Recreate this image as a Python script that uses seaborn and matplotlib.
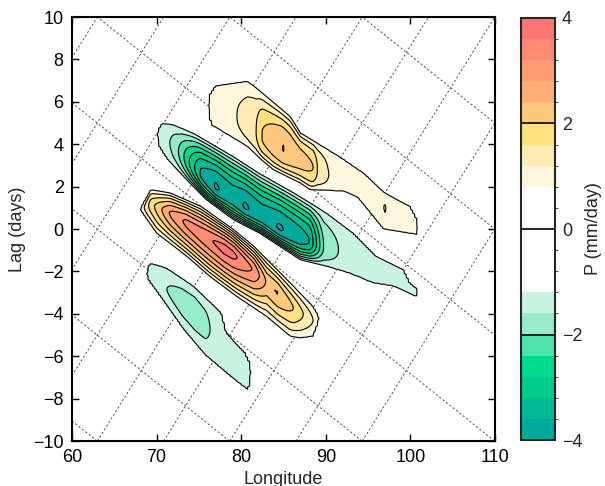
import numpy as np
import matplotlib
matplotlib.use("Agg")
import matplotlib.pyplot as plt
import seaborn as sns
from matplotlib.colors import ListedColormap, BoundaryNorm, to_rgba

# ---------------- data ----------------
levels = np.round(np.arange(-4.0, 4.01, 0.4), 2)
cbar_ticks = [-4, -2, 0, 2, 4]
cbar_lines = [-2, 0, 2]
lon_ticks = [60, 70, 80, 90, 100, 110]
lag_ticks = list(range(-10, 11, 2))

# one colour per 0.4 interval from -4 to 4 (white intervals are left unfilled)
band_colors = ["#00A99A", "#00B993", "#00CB88", "#00DA8C", "#4FE2AA",
               "#98EBC9", "#C9F3E1", "white", "white", "white",
               "white", "white", "#FFF6DE", "#FFEBB3", "#FFE07F",
               "#FFC77C", "#FFAE78", "#FF9C74", "#FF8A72", "#FF7571"]

# red (positive) band: outer 0.8 contour edges and ridge
red_top_lon = [67.9, 69.3, 71.6, 75.2, 79.1, 81.5, 86.2, 88.5, 89.4]
red_top_lag = [0.9, 1.86, 1.7, 1.07, -0.03, -0.82, -2.7, -3.65, -4.2]
red_bot_lon = [67.9, 68.3, 70.0, 73.6, 76.3, 79.5, 83.0, 85.8, 87.0, 88.5, 89.4]
red_bot_lag = [0.9, 0.75, -0.19, -1.29, -2.23, -3.18, -4.12, -5.06, -5.14, -5.06, -4.2]
red_ridge_lon = [67.9, 69.3, 71.6, 73.5, 75.2, 78.0, 79.1, 81.5, 83.0, 84.3, 86.2, 88.5, 89.4]
red_ridge_lag = [0.9, 1.15, 0.75, 0.3, -0.2, -0.9, -1.2, -1.95, -2.5, -3.0, -3.75, -4.3, -4.2]
red_ridge_val = [0.7, 1.8, 2.85, 3.3, 3.45, 3.75, 3.7, 3.15, 2.35, 2.42, 2.0, 1.2, 0.7]

# main green (negative) band: outer -1.2 contour edges and ridge
gm_top_lon = [69.8, 70.6, 72.0, 74.4, 79.1, 82.2, 86.2, 90.1, 93.3, 96.0, 99.2, 100.0, 101.6]
gm_top_lag = [4.5, 5.0, 4.92, 4.5, 3.4, 2.6, 1.7, 0.75, -0.2, -1.3, -1.9, -2.55, -3.05]
gm_bot_lon = [69.8, 70.0, 71.2, 73.6, 75.9, 79.1, 82.2, 87.0, 90.1, 92.9, 95.6, 98.0, 100.6, 101.6]
gm_bot_lag = [4.5, 4.05, 3.3, 2.3, 1.38, 0.44, -0.2, -1.45, -1.76, -2.1, -2.55, -2.7, -3.2, -3.05]
gm_ridge_lon = [69.8, 70.6, 71.6, 72.6, 75.2, 77.0, 79.0, 80.5, 82.5, 84.6, 87.0, 88.1,
                89.7, 91.5, 93.3, 96.0, 98.5, 100.0, 101.6]
gm_ridge_lag = [4.5, 4.45, 4.05, 3.65, 2.6, 1.97, 1.45, 1.04, 0.55, 0.03, -0.45, -0.6,
                -0.85, -1.0, -1.3, -1.95, -2.35, -2.85, -3.05]
gm_ridge_val = [-1.1, -1.4, -1.6, -2.0, -3.65, -4.04, -3.85, -4.04, -3.85, -4.04, -3.8, -3.6,
                -2.0, -1.6, -1.45, -1.4, -1.35, -1.3, -1.1]

# upper yellow (positive) band
yb_top_lon = [75.5, 76.9, 80.7, 81.5, 85.8, 87.0, 91.7, 94.5, 97.0, 100.0, 101.5, 101.7]
yb_top_lag = [5.9, 6.76, 6.97, 6.75, 5.3, 4.53, 3.4, 2.64, 1.7, 1.07, 0.0, -0.1]
yb_bot_lon = [75.5, 76.5, 80.7, 82.6, 83.8, 87.0, 88.1, 92.1, 93.7, 96.8, 100.8, 101.7]
yb_bot_lag = [5.9, 4.9, 3.9, 3.19, 2.8, 2.17, 1.86, 1.78, 1.5, 0.0, -0.27, -0.1]
yb_ridge_lon = [75.5, 77.5, 79.5, 81.8, 82.4, 84.9, 86.5, 88.5, 89.0, 90.3, 92.0, 94.0,
                97.0, 99.0, 101.7]
yb_ridge_lag = [5.9, 5.6, 5.3, 4.55, 4.35, 3.8, 3.4, 2.9, 2.8, 2.55, 2.35, 1.9,
                1.0, 0.55, -0.1]
yb_ridge_val = [0.7, 1.0, 1.2, 1.6, 2.0, 2.42, 2.2, 2.0, 1.6, 1.2, 1.0, 1.0,
                1.21, 1.0, 0.7]

# lower-left green (negative) band
gb_top_lon = [68.2, 69.3, 71.2, 74.4, 77.7, 78.3, 80.5, 81.9]
gb_top_lag = [-2.0, -1.6, -1.84, -2.7, -3.96, -4.9, -5.85, -6.95]
gb_bot_lon = [68.2, 70.4, 73.2, 75.7, 78.7, 80.7, 81.9]
gb_bot_lag = [-2.0, -3.18, -4.75, -5.93, -6.95, -7.58, -6.95]
gb_ridge_lon = [68.2, 70.0, 71.2, 73.0, 74.5, 75.8, 76.5, 78.0, 80.0, 81.9]
gb_ridge_lag = [-2.0, -2.4, -2.85, -3.4, -3.9, -4.45, -4.8, -5.4, -6.4, -6.95]
gb_ridge_val = [-1.1, -1.4, -1.6, -1.8, -1.85, -1.75, -1.55, -1.45, -1.35, -1.1]

# profile sharpness per band (red, main green, yellow, lower green)
band_shape = [1.6, 2.0, 2.4, 1.8]

# dashed guide lines: anchor (lon, lag), slopes (deg/day) and spacing (deg)
guide_anchor = (63.0, 10.0)
guide_slopes = [1.566, -3.13]
guide_spacing = [7.83, 15.66]

# ---------------- build field ----------------
lon = np.arange(60, 110.001, 0.25)
lag = np.arange(-10, 10.001, 0.05)
LON, LAG = np.meshgrid(lon, lag)


def band_field(tl, tg, bl, bg, rl, rg, rv, thr, p):
    top = np.interp(LON, tl, tg)
    bot = np.interp(LON, bl, bg)
    pk = np.interp(LON, rl, rg)
    A = np.interp(LON, rl, rv, left=0.0, right=0.0)
    sgn = np.sign(thr)
    a = np.abs(A)
    t = abs(thr)
    up = np.maximum(top - pk, 1e-3)
    dn = np.maximum(pk - bot, 1e-3)
    d = np.where(LAG >= pk, (LAG - pk) / up, (pk - LAG) / dn)
    inside = t + (a - t) * (1 - np.minimum(d, 1.0) ** p)
    outside = t * np.exp(-4.0 * np.maximum(d - 1.0, 0.0))
    strong = np.where(d <= 1.0, inside, outside)
    weak = a * np.exp(-d ** 2)
    return sgn * np.where(a > t, strong, weak)


fields = np.stack([
    band_field(red_top_lon, red_top_lag, red_bot_lon, red_bot_lag,
               red_ridge_lon, red_ridge_lag, red_ridge_val, 0.8, band_shape[0]),
    band_field(gm_top_lon, gm_top_lag, gm_bot_lon, gm_bot_lag,
               gm_ridge_lon, gm_ridge_lag, gm_ridge_val, -1.2, band_shape[1]),
    band_field(yb_top_lon, yb_top_lag, yb_bot_lon, yb_bot_lag,
               yb_ridge_lon, yb_ridge_lag, yb_ridge_val, 0.8, band_shape[2]),
    band_field(gb_top_lon, gb_top_lag, gb_bot_lon, gb_bot_lag,
               gb_ridge_lon, gb_ridge_lag, gb_ridge_val, -1.2, band_shape[3]),
])
idx = np.argmax(np.abs(fields), axis=0)
P = np.take_along_axis(fields, idx[None], axis=0)[0]

# ---------------- plot ----------------
sns.set_style("ticks")
plt.rcParams["font.family"] = ["Liberation Sans", "DejaVu Sans"]
plt.rcParams["axes.unicode_minus"] = True
FS = 13

fig = plt.figure(figsize=(6.05, 4.86), dpi=100)
ax = fig.add_axes([72 / 605, 1 - 441 / 486, 423 / 605, 424 / 486])
cax = fig.add_axes([521 / 605, 1 - 440 / 486, 34 / 605, 422 / 486])

# guide lines (under the fills)
lag_line = np.array([-10.0, 10.0])
for slope, spacing in zip(guide_slopes, guide_spacing):
    for kk in range(-8, 9):
        lon_line = guide_anchor[0] + slope * (lag_line - guide_anchor[1]) + spacing * kk
        sns.lineplot(x=lon_line, y=lag_line, ax=ax, color="0.3", lw=0.7,
                     linestyle=(0, (2.2, 2.2)), sort=False, estimator=None, zorder=1)

rgba = [(1, 1, 1, 0) if c == "white" else to_rgba(c) for c in band_colors]
cmap = ListedColormap(rgba)
norm = BoundaryNorm(levels, cmap.N)
cf = ax.contourf(LON, LAG, np.clip(P, -3.999, 3.999), levels=levels,
                 cmap=cmap, norm=norm, zorder=2)
line_levels = [v for v in levels if (v <= -1.19 or v >= 0.79)]
ax.contour(LON, LAG, P, levels=line_levels, colors="k", linewidths=0.8,
           negative_linestyles="solid", zorder=3)

ax.set_xlim(60, 110)
ax.set_ylim(-10, 10)
ax.set_xticks(lon_ticks)
ax.set_yticks(lag_ticks)
ax.tick_params(direction="in", top=True, right=True, length=5, width=1,
               labelsize=FS, pad=6, colors="k")
for s in ax.spines.values():
    s.set_linewidth(1.5)
    s.set_color("k")
ax.set_xlabel("Longitude", fontsize=FS, labelpad=3)
ax.set_ylabel("Lag (days)", fontsize=FS, labelpad=5)

cb = fig.colorbar(cf, cax=cax, ticks=cbar_ticks)
cb.outline.set_linewidth(1.5)
cb.ax.tick_params(direction="in", length=0, labelsize=FS, pad=5)
for v in cbar_lines:
    cax.axhline(v, color="k", lw=1.2)
cb.set_label("P (mm/day)", fontsize=FS, labelpad=2)

fig.savefig("out.png", dpi=100)
